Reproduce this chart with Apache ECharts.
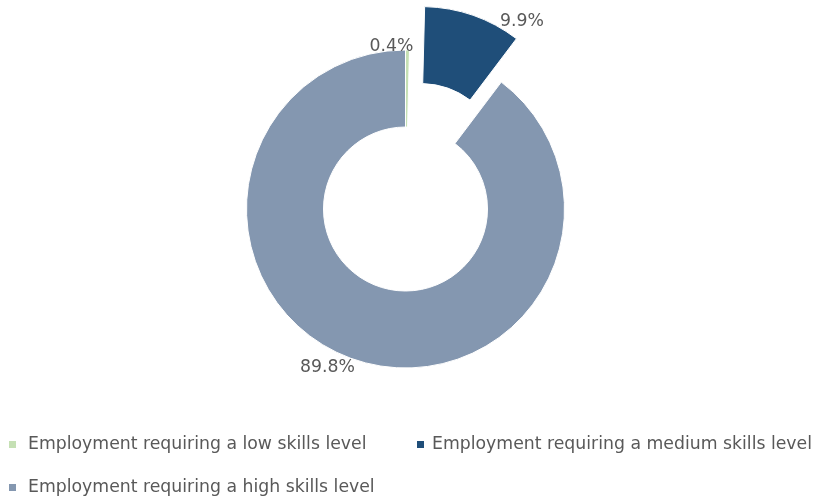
<!DOCTYPE html>
<html>
<head>
<meta charset="utf-8">
<script src="https://cdn.jsdelivr.net/npm/echarts@6/dist/echarts.min.js"></script>
<style>
  html, body { margin: 0; padding: 0; background: #ffffff; }
  #chart { width: 816px; height: 496px; }
</style>
</head>
<body>
<div id="chart"></div>
<script>
// Share of employment by skills level required (%)
const categories = [
  'Employment requiring a low skills level',
  'Employment requiring a medium skills level',
  'Employment requiring a high skills level'
];
const shares = [0.4, 9.9, 89.8];
const sliceColors = ['#C5E0B4', '#1F4E79', '#8497B0'];
// the medium-skills slice is pulled out of the ring
const pulledOut = [false, true, false];

const textColor = '#595959';
const fontFamily = 'DejaVu Sans';
const fontSize = 17.3;

// small nudges of the value labels away from their default outside spot
const labelNudge = [
  { dx: -43, dy: -4 },
  { dx: 22, dy: 6 },
  { dx: 5, dy: 8 }
];

const chart = echarts.init(document.getElementById('chart'), null, { renderer: 'canvas' });

function legendFor(index, left, top, textGap) {
  return {
    data: [categories[index]],
    left: left,
    top: top,
    padding: 0,
    orient: 'horizontal',
    itemWidth: 7,
    itemHeight: 7,
    icon: 'rect',
    selectedMode: false,
    itemStyle: { borderWidth: 0 },
    textStyle: {
      color: textColor,
      fontFamily: fontFamily,
      fontSize: fontSize,
      padding: [0, 0, 0, textGap]
    }
  };
}

const option = {
  animation: false,
  backgroundColor: '#ffffff',
  color: sliceColors,
  legend: [
    legendFor(0, 9, 436, 7),
    legendFor(1, 417, 436, 3),
    legendFor(2, 9, 479, 7)
  ],
  series: [{
    type: 'pie',
    center: [405.5, 209],
    radius: [82, 159],
    startAngle: 90,
    clockwise: true,
    selectedMode: 'single',
    selectedOffset: 46,
    avoidLabelOverlap: false,
    emphasis: { disabled: true },
    // thin white outline round every slice
    itemStyle: { borderWidth: 1, borderColor: '#ffffff' },
    label: {
      show: true,
      position: 'outside',
      color: textColor,
      fontFamily: fontFamily,
      fontSize: fontSize,
      formatter: p => p.value.toFixed(1) + '%'
    },
    labelLine: { show: false, length: 0, length2: 0 },
    labelLayout: p => labelNudge[p.dataIndex],
    data: categories.map((name, i) => ({
      name: name,
      value: shares[i],
      selected: pulledOut[i],
      itemStyle: { color: sliceColors[i] }
    }))
  }]
};

chart.setOption(option);
</script>
</body>
</html>
